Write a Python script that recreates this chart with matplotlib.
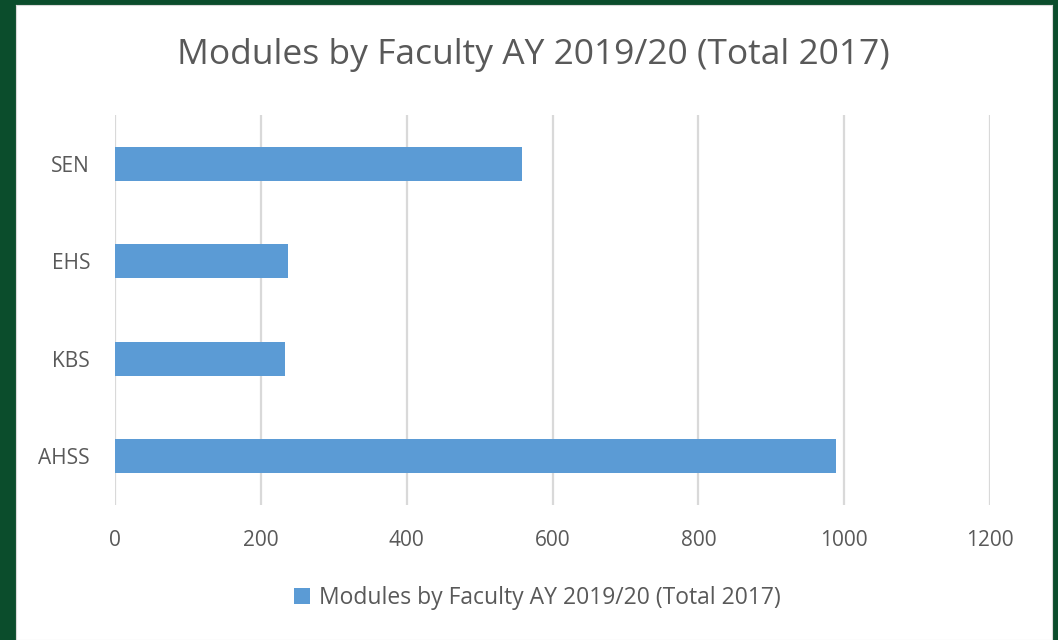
import matplotlib.pyplot as plt

faculties = ["AHSS", "KBS", "EHS", "SEN"]
modules = [989, 233, 237, 558]
title = "Modules by Faculty AY 2019/20 (Total 2017)"
xticks = [0, 200, 400, 600, 800, 1000, 1200]

plt.rcParams["font.family"] = ["Open Sans", "DejaVu Sans"]

fig = plt.figure(figsize=(10.58, 6.4), dpi=100)
fig.patch.set_facecolor("#0b4d2c")

# white chart panel on the green slide background
bg = fig.add_axes([16 / 1058, 0, (1052 - 16) / 1058, 1 - 5 / 640], zorder=0)
bg.set_facecolor("white")
bg.set_xticks([])
bg.set_yticks([])
for s in bg.spines.values():
    s.set_color("#d9d9d9")

ax = fig.add_axes([115 / 1058, 1 - 505 / 640, 875 / 1058, 390 / 640], zorder=1)
ax.set_facecolor("none")

ax.barh(range(len(faculties)), modules, height=0.35, color="#5b9bd5",
        label=title, zorder=3)

ax.set_xlim(0, 1200)
ax.set_ylim(-0.5, 3.5)
ax.set_xticks(xticks)
ax.set_yticks(range(len(faculties)))
ax.set_yticklabels(faculties)
ax.grid(axis="x", color="#d9d9d9", linewidth=1.6, zorder=0)
for s in ax.spines.values():
    s.set_visible(False)
ax.tick_params(length=0, labelsize=15, colors="#595959")
ax.tick_params(axis="y", pad=18)
ax.tick_params(axis="x", pad=18)

fig.text(533 / 1058, 1 - 55 / 640, title, ha="center", va="center",
         fontsize=25.5, color="#595959")

fig.legend(loc="center", bbox_to_anchor=(537 / 1058, 1 - 598 / 640),
           frameon=False, fontsize=16.5, labelcolor="#595959",
           handlelength=0.7, handleheight=0.7, handletextpad=0.4)

fig.savefig("out.png", dpi=100, facecolor=fig.get_facecolor())
